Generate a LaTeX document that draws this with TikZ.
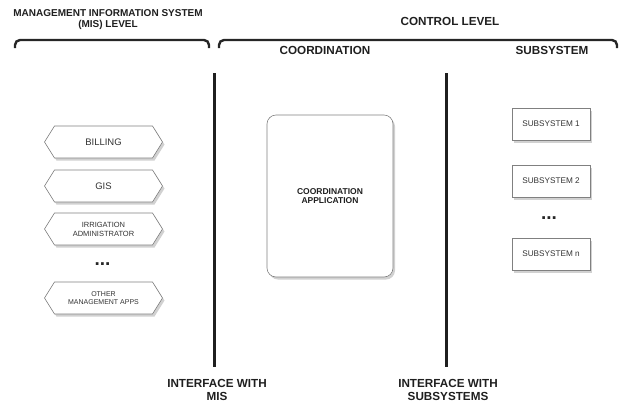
\documentclass[tikz,border=0pt]{standalone}
\usepackage{fontspec}
\setmainfont{Liberation Sans}
\usetikzlibrary{shapes.symbols,shadows}
\begin{document}
\begin{tikzpicture}[x=1pt,y=-1pt,
  head/.style={font=\bfseries\fontsize{11.7}{13}\selectfont, align=center, text=black!88, inner sep=0pt},
  mistitle/.style={font=\bfseries\fontsize{10}{11.5}\selectfont, align=center, text=black!88, inner sep=0pt},
  bracket/.style={line width=2.4pt, rounded corners=5pt, black!85},
  divider/.style={line width=3pt, black!88},
  shad/.style={drop shadow={shadow xshift=2pt, shadow yshift=-2.5pt, opacity=0.3, fill=black!60}},
  misapp/.style={signal, signal to=west and east, signal pointer angle=116, draw=black!50, line width=0.6pt, fill=white, shad, minimum width=118pt, minimum height=32pt, inner sep=1pt, align=center, text=black!80},
  coordbox/.style={rectangle, rounded corners=9pt, draw=black!50, line width=0.6pt, fill=white, shad, minimum width=126pt, minimum height=162pt, align=center, text=black!88, font=\bfseries\fontsize{8.5}{9.5}\selectfont},
  subbox/.style={rectangle, draw=black!50, line width=0.6pt, fill=white, shad, minimum width=78pt, minimum height=32pt, inner sep=1pt, text=black!80, font=\fontsize{8.2}{9.5}\selectfont},
  dots/.style={font=\bfseries\fontsize{19}{19}\selectfont, text=black!85, inner sep=0pt}
]
\useasboundingbox (0,0) rectangle (619,405);

% titles
\node[mistitle] (mistitle) at (108,19.5) {MANAGEMENT INFORMATION SYSTEM\\(MIS) LEVEL};
\node[head] (ctrl) at (450,21.5) {CONTROL LEVEL};
\node[head] (coordhead) at (325,50) {COORDINATION};
\node[head] (subhead) at (552,50) {SUBSYSTEM};

% brackets
\coordinate (bl1) at (15,48);
\coordinate (bl2) at (209,48);
\coordinate (br1) at (219,48);
\coordinate (br2) at (617,48);
\draw[bracket] (bl1) -- (bl1 |- 0,40) -- (bl2 |- 0,40) -- (bl2);
\draw[bracket] (br1) -- (br1 |- 0,40) -- (br2 |- 0,40) -- (br2);

% dividers
\coordinate (d1t) at (214,73);
\coordinate (d1b) at (214,367);
\coordinate (d2t) at (446,73);
\coordinate (d2b) at (446,367);
\draw[divider] (d1t) -- (d1b);
\draw[divider] (d2t) -- (d2b);

% interface labels
\node[head] (ifmis) at (217,390) {INTERFACE WITH\\MIS};
\node[head] (ifsub) at (448,390) {INTERFACE WITH\\SUBSYSTEMS};

% MIS applications
\node[misapp, font=\fontsize{9.5}{11}\selectfont] (billing) at (103.5,142) {BILLING};
\node[misapp, font=\fontsize{9.5}{11}\selectfont] (gis) at (103.5,186) {GIS};
\node[misapp, font=\fontsize{7.5}{9}\selectfont] (irrig) at (103.5,229) {IRRIGATION\\ADMINISTRATOR};
\node[dots] (misdots) at (102.5,264) {...};
\node[misapp, font=\fontsize{7}{8.5}\selectfont] (other) at (103.5,298) {OTHER\\MANAGEMENT APPS};

% coordination
\node[coordbox] (coordapp) at (330,196) {COORDINATION\\APPLICATION};

% subsystems
\node[subbox] (sub1) at (551,124) {SUBSYSTEM 1};
\node[subbox] (sub2) at (551,181) {SUBSYSTEM 2};
\node[dots] (subdots) at (549,218) {...};
\node[subbox] (subn) at (551,254) {SUBSYSTEM n};
\end{tikzpicture}
\end{document}
